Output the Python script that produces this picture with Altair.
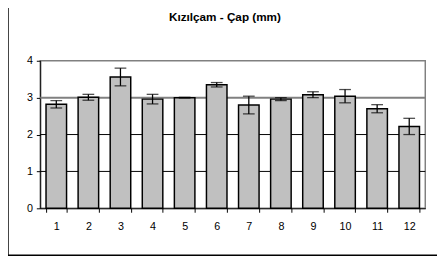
import altair as alt
import pandas as pd

categories = [str(i) for i in range(1, 13)]
means = [2.82, 3.01, 3.56, 2.96, 3.00, 3.35, 2.80, 2.96, 3.08, 3.04, 2.70, 2.22]
errors = [0.10, 0.08, 0.24, 0.13, 0.01, 0.06, 0.24, 0.04, 0.08, 0.18, 0.11, 0.22]
y_ticks = [0, 1, 2, 3, 4]
title_text = "Kızılçam - Çap (mm)"

df = pd.DataFrame({"cat": categories, "mean": means, "err": errors})
df["lo"] = df["mean"] - df["err"]
df["hi"] = df["mean"] + df["err"]

FONT = "Liberation Sans"
W, H = 394, 151

xaxis = alt.Axis(labelAngle=0, tickBand="extent", domainColor="black",
                 tickColor="black", tickSize=4, labelPadding=9, title=None,
                 labelFont=FONT, labelFontSize=11, labelColor="black",
                 grid=False)
xscale = alt.Scale(paddingInner=0.36, paddingOuter=0.18)
def X():
    return alt.X("cat:N", sort=categories, title=None, scale=xscale, axis=xaxis)

yaxis = alt.Axis(values=y_ticks, grid=False, domainColor="black", title=None,
                 tickColor="black", tickSize=4, labelPadding=4,
                 labelOverlap=False,
                 labelFont=FONT, labelFontSize=11, labelColor="black")
yscale = alt.Scale(domain=[0, 4], nice=False)
def Y(field):
    return alt.Y(field, scale=yscale, axis=yaxis, title=None)

bars = alt.Chart(df).mark_bar(color="#c0c0c0", stroke="black", strokeWidth=1.5).encode(
    x=X(), y=Y("mean:Q"))

grid_df = pd.DataFrame({"g": [1, 2]})
grid = alt.Chart(grid_df).mark_rule(color="black", strokeWidth=1).encode(y=Y("g:Q"))
grid3_df = pd.DataFrame({"g": [3]})
grid3 = alt.Chart(grid3_df).mark_rule(color="#808080", strokeWidth=2).encode(y=Y("g:Q"))

err_rule = alt.Chart(df).mark_rule(color="black", strokeWidth=1.3).encode(
    x=X(), y=Y("lo:Q"), y2="hi:Q")
cap_lo = alt.Chart(df).mark_tick(color="black", size=12, thickness=1.3).encode(
    x=X(), y=Y("lo:Q"))
cap_hi = alt.Chart(df).mark_tick(color="black", size=12, thickness=1.3).encode(
    x=X(), y=Y("hi:Q"))

title_df = pd.DataFrame({"t": [title_text]})
title = alt.Chart(title_df).mark_text(font=FONT, fontSize=12, fontWeight="bold",
                                      color="black", align="center",
                                      baseline="alphabetic").encode(
    text="t:N", x=alt.value(189), y=alt.value(-41))

frame_left = alt.Chart(grid3_df).mark_rule(color="black", strokeWidth=1.5).encode(
    x=alt.value(-33), y=alt.value(-60), y2=alt.value(199))
frame_bottom = alt.Chart(grid3_df).mark_rule(color="black", strokeWidth=1.5).encode(
    x=alt.value(-33), x2=alt.value(412), y=alt.value(199))

chart = alt.layer(grid, grid3, bars, err_rule, cap_lo, cap_hi, title,
                  frame_left, frame_bottom).properties(
    width=W, height=H,
    autosize=alt.AutoSizeParams(type="none"),
    padding={"left": 33, "top": 51, "right": 12, "bottom": 55},
).configure_view(stroke="#808080", strokeWidth=1.5)

chart.save("out.html", embed_options={"renderer": "svg", "actions": False})
